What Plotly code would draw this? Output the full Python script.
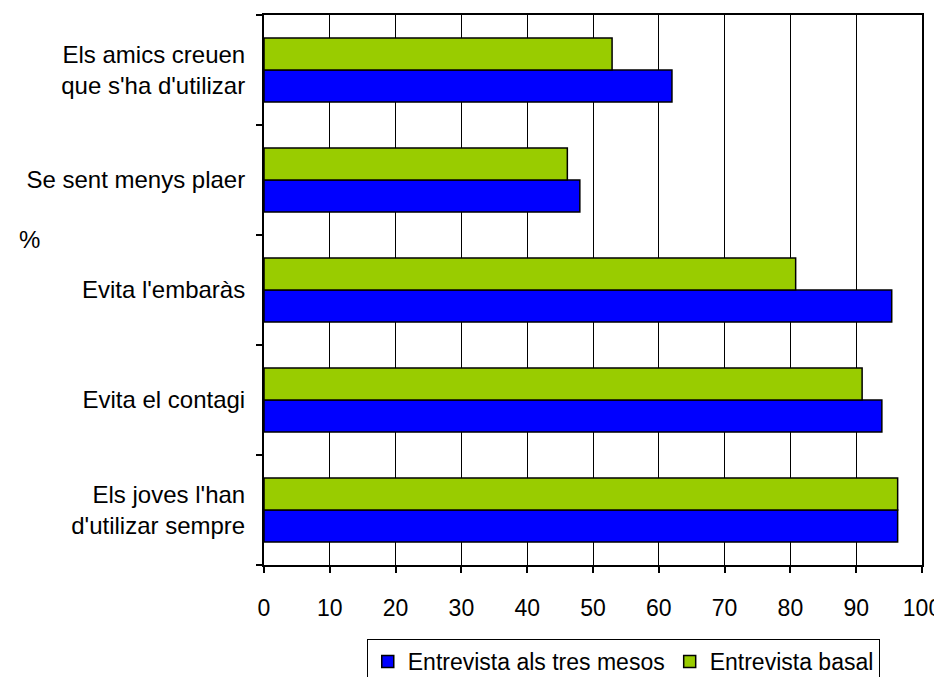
import plotly.graph_objects as go

# Categories bottom-to-top (as drawn on the y axis)
categories = [
    "Els joves l'han<br>d'utilizar sempre",
    "Evita el contagi",
    "Evita l'embaràs",
    "Se sent menys plaer",
    "Els amics creuen<br>que s'ha d'utilizar",
]
tres_mesos = [96.3, 93.9, 95.4, 48.0, 62.0]
basal = [96.3, 90.9, 80.8, 46.1, 52.9]
x_ticks = [0, 10, 20, 30, 40, 50, 60, 70, 80, 90, 100]

FONT = "Liberation Sans, Arial, sans-serif"

fig = go.Figure()
fig.add_trace(go.Bar(
    y=categories, x=tres_mesos, orientation="h",
    name="Entrevista als tres mesos",
    marker=dict(color="#0000FF", line=dict(color="black", width=1.5)),
))
fig.add_trace(go.Bar(
    y=categories, x=basal, orientation="h",
    name="Entrevista basal",
    marker=dict(color="#99CC00", line=dict(color="black", width=1.5)),
))

fig.update_layout(
    width=942, height=677,
    margin=dict(l=256, r=28, t=7, b=120),
    paper_bgcolor="white", plot_bgcolor="white",
    barmode="group", bargap=0.418, bargroupgap=0,
    font=dict(family=FONT, size=24, color="black"),
    showlegend=True,
    legend=dict(
        orientation="h", xref="paper", x=0.546, xanchor="center",
        yref="container", y=0.068, yanchor="top",
        bordercolor="black", borderwidth=1, bgcolor="white",
        font=dict(family=FONT, size=23, color="black"),
        itemwidth=30, tracegroupgap=0,
    ),
    annotations=[dict(
        x=-0.356, xref="paper", y=0.591, yref="paper", text="%", showarrow=False,
        xanchor="center", yanchor="middle",
        font=dict(family=FONT, size=24, color="black"),
    )],
)
fig.update_xaxes(
    range=[0, 100], tickvals=x_ticks, ticktext=[str(v) for v in x_ticks],
    showgrid=True, gridcolor="black", gridwidth=1.2,
    showline=True, linecolor="black", linewidth=2, mirror=True,
    ticks="outside", ticklen=6, tickcolor="black", tickwidth=1.5,
    ticklabelstandoff=15, ticklabeloverflow="allow",
    zeroline=False, automargin=False,
    tickfont=dict(family=FONT, size=23, color="black"),
)
fig.update_yaxes(
    type="category", categoryorder="array", categoryarray=categories,
    showline=True, linecolor="black", linewidth=2, mirror=True,
    ticks="outside", tickson="boundaries", ticklen=6, tickcolor="black", tickwidth=1.5,
    ticklabelstandoff=12, automargin=False,
    showgrid=False, zeroline=False,
    tickfont=dict(family=FONT, size=24, color="black"),
)

fig.write_html("out.html")
